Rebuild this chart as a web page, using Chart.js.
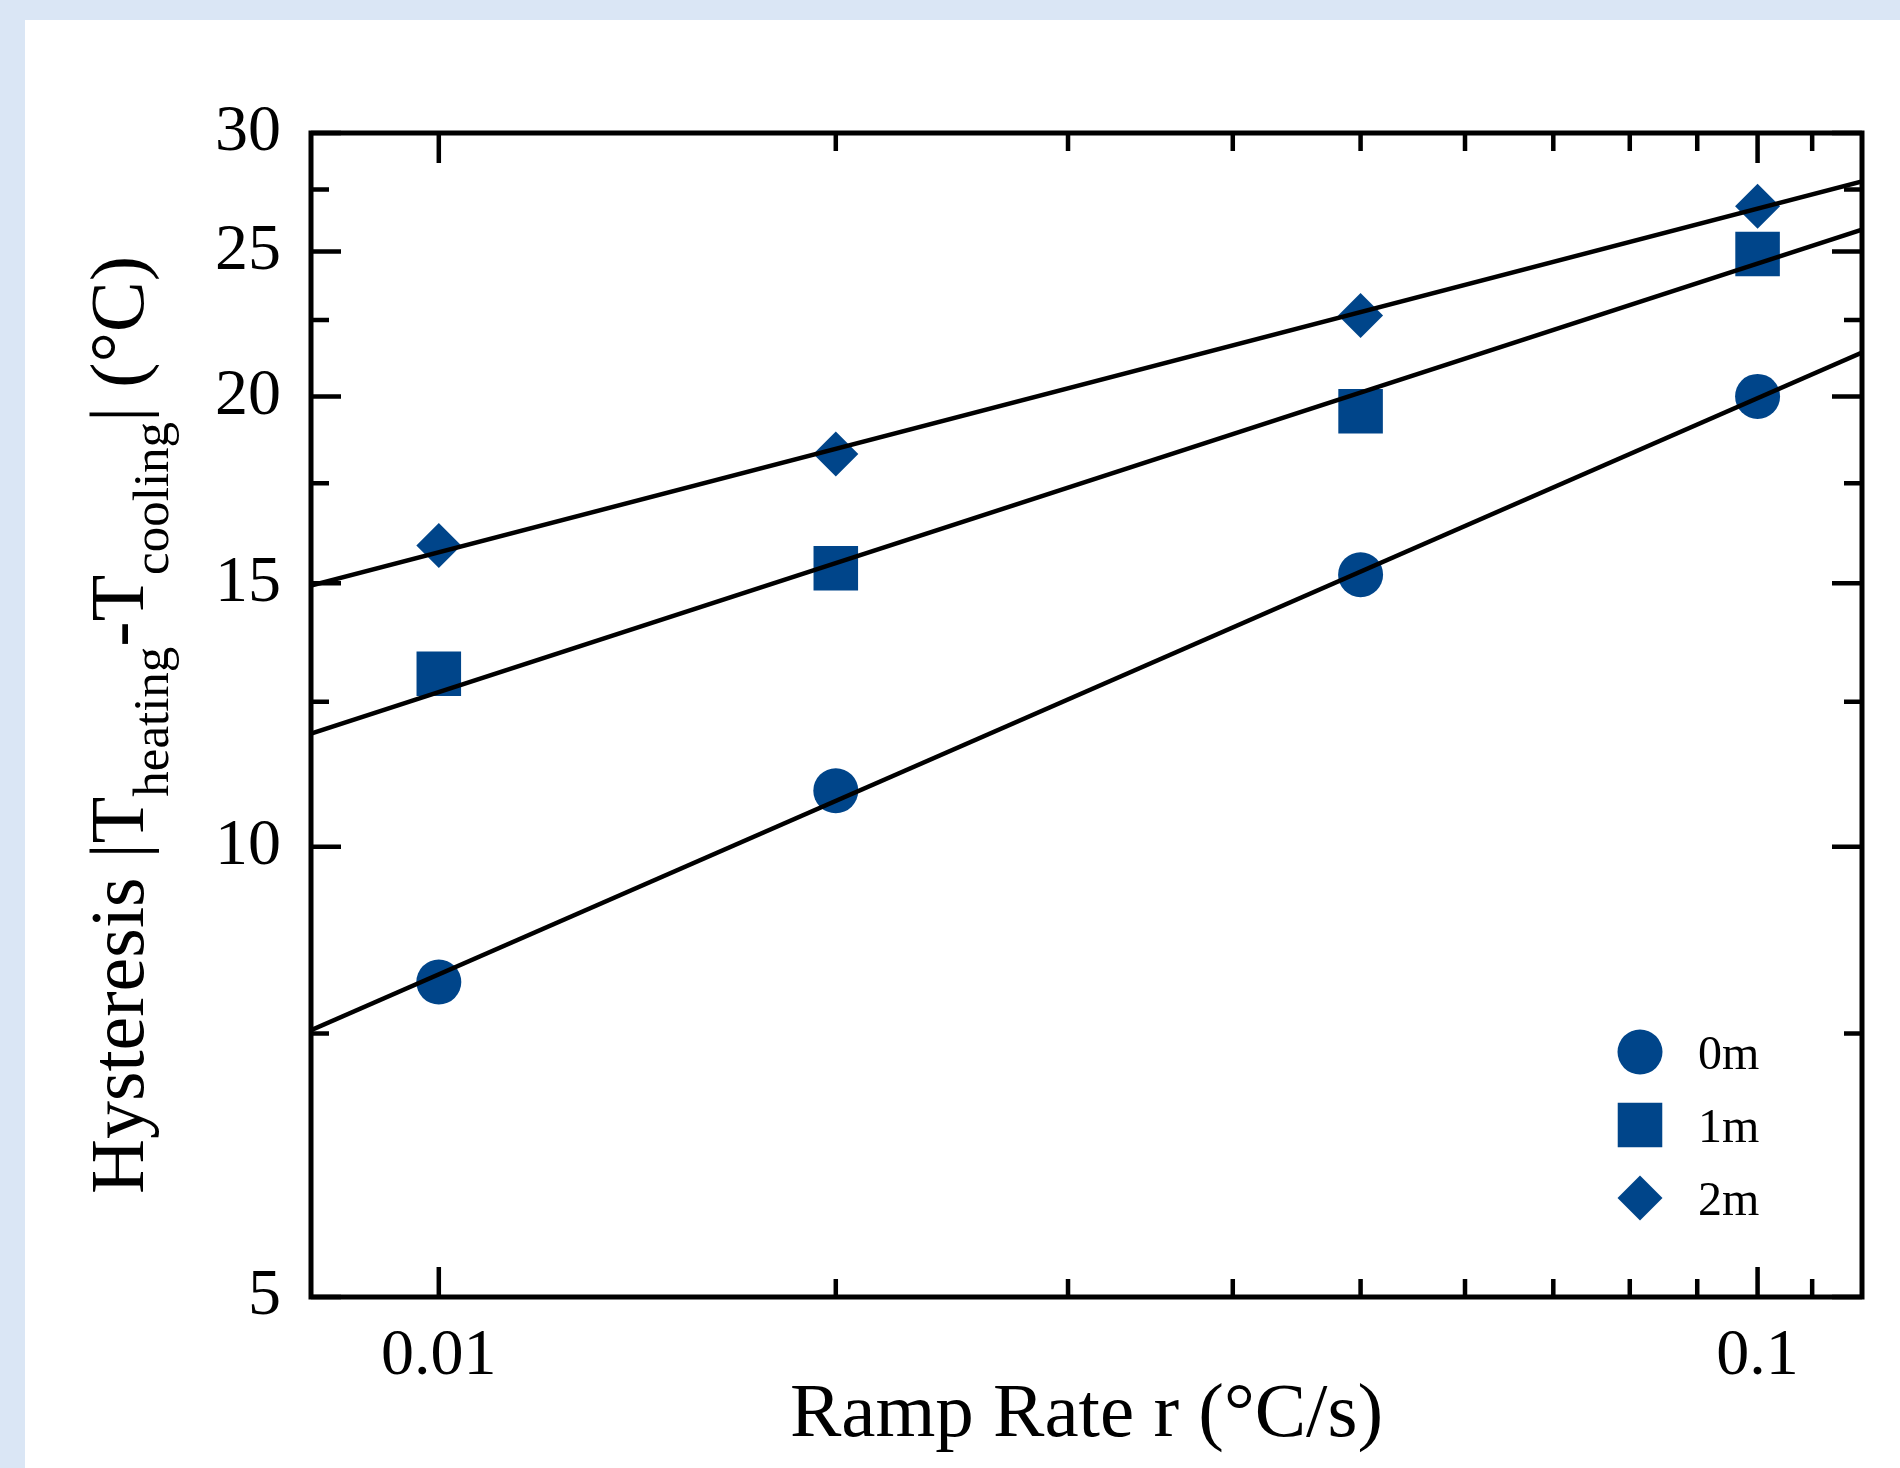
<!DOCTYPE html>
<html>
<head>
<meta charset="utf-8">
<script src="https://cdn.jsdelivr.net/npm/chart.js@4.4.1/dist/chart.umd.min.js"></script>
<style>
  html, body { margin: 0; padding: 0; background: #dae6f5; overflow: hidden; }
  #panel { position: absolute; left: 25px; top: 20px; width: 1875px; height: 1448px; background: #fff; }
  #chart { position: absolute; left: 0; top: 0; }
</style>
</head>
<body>
<div id="panel"></div>
<canvas id="chart" width="1900" height="1468"></canvas>
<script>
// ramp rate (°C/s) and measured hysteresis (°C)
const rampRates = [0.01, 0.02, 0.05, 0.1];
const seriesNames = ["0m", "1m", "2m"];
const hyst0m = [8.12, 10.9, 15.2, 20.0];
const hyst1m = [13.05, 15.35, 19.55, 24.9];
const hyst2m = [15.9, 18.3, 22.65, 26.8];

// fitted power-law lines, read at the frame edges
const fitRange = [0.008, 0.12];
const fit0m = [7.54, 21.4];
const fit1m = [11.9, 25.85];
const fit2m = [14.95, 27.85];

// axis ticks
const yTicks = [5, 10, 15, 20, 25, 30];
const yMinor = [7.5, 12.5, 17.5, 22.5, 27.5];
const xTicks = [0.01, 0.1];
const xMinor = [0.02, 0.03, 0.04, 0.05, 0.06, 0.07, 0.08, 0.09, 0.11];

const blue = "#00458a";
const serif = '"Liberation Serif", "Times New Roman", serif';

Chart.defaults.font.family = serif;
Chart.defaults.color = "#000";

const pts = (xs, ys) => xs.map((x, i) => ({ x: x, y: ys[i] }));

function fitSet(ys) {
  return {
    data: pts(fitRange, ys),
    showLine: true,
    borderColor: "#000",
    borderWidth: 4.5,
    pointRadius: 0,
    fill: false,
  };
}

function markerSet(label, ys, style, r) {
  return {
    label: label,
    data: pts(rampRates, ys),
    pointStyle: style,
    pointRadius: r,
    backgroundColor: blue,
    borderColor: blue,
    borderWidth: 0,
  };
}

const markerStyles = [["circle", 22.5], ["rect", 31.5], ["rectRot", 22.5]];

// frame, inward ticks on all four sides, titles and legend
const decor = {
  id: "decor",
  afterDatasetsDraw(chart) {
    const { ctx, chartArea: a, scales } = chart;
    const xs = scales.x, ys = scales.y;
    ctx.save();
    ctx.strokeStyle = "#000";
    ctx.lineWidth = 5;
    ctx.lineCap = "butt";
    ctx.strokeRect(a.left, a.top, a.right - a.left, a.bottom - a.top);

    ctx.lineWidth = 4.5;
    ctx.beginPath();
    const tickX = (v, len) => {
      const p = xs.getPixelForValue(v);
      ctx.moveTo(p, a.bottom); ctx.lineTo(p, a.bottom - len);
      ctx.moveTo(p, a.top); ctx.lineTo(p, a.top + len);
    };
    const tickY = (v, len) => {
      const p = ys.getPixelForValue(v);
      ctx.moveTo(a.left, p); ctx.lineTo(a.left + len, p);
      ctx.moveTo(a.right, p); ctx.lineTo(a.right - len, p);
    };
    xTicks.forEach((v) => tickX(v, 30));
    xMinor.forEach((v) => tickX(v, 18));
    yTicks.forEach((v) => tickY(v, 30));
    yMinor.forEach((v) => tickY(v, 18));
    ctx.stroke();
    ctx.restore();
  },
  afterDraw(chart) {
    const { ctx, chartArea: a } = chart;
    ctx.save();
    ctx.fillStyle = "#000";

    // x title
    ctx.font = "77px " + serif;
    ctx.textAlign = "center";
    ctx.textBaseline = "alphabetic";
    ctx.fillText("Ramp Rate r (°C/s)", (a.left + a.right) / 2, 1436);

    // y title with subscripts
    const parts = [
      ["Hysteresis |T", false],
      ["heating", true],
      ["-T", false],
      ["cooling", true],
      ["| (°C)", false],
    ];
    const mainFont = "76px " + serif;
    const subFont = "51px " + serif;
    let total = 0;
    const widths = parts.map(([t, sub]) => {
      ctx.font = sub ? subFont : mainFont;
      const w = ctx.measureText(t).width;
      total += w;
      return w;
    });
    ctx.translate(143, (a.top + a.bottom) / 2 + 10);
    ctx.rotate(-Math.PI / 2);
    ctx.textAlign = "left";
    let pos = -total / 2;
    parts.forEach(([t, sub], i) => {
      ctx.font = sub ? subFont : mainFont;
      ctx.fillText(t, pos, sub ? 25 : 0);
      pos += widths[i];
    });
    ctx.setTransform(1, 0, 0, 1, 0, 0);

    // legend
    const lx = a.right - 222;
    const ly = a.bottom - 245;
    ctx.font = "48px " + serif;
    ctx.textAlign = "left";
    seriesNames.forEach((name, i) => {
      const y = ly + i * 73;
      ctx.fillStyle = blue;
      ctx.strokeStyle = blue;
      Chart.helpers.drawPoint(ctx, {
        pointStyle: markerStyles[i][0],
        radius: markerStyles[i][1],
        rotation: 0,
        borderWidth: 0,
      }, lx, y);
      ctx.fillStyle = "#000";
      ctx.fillText(name, lx + 58, y + 17);
    });
    ctx.restore();
  },
};

new Chart(document.getElementById("chart"), {
  type: "scatter",
  data: {
    datasets: [
      fitSet(fit0m),
      fitSet(fit1m),
      fitSet(fit2m),
      markerSet(seriesNames[0], hyst0m, ...markerStyles[0]),
      markerSet(seriesNames[1], hyst1m, ...markerStyles[1]),
      markerSet(seriesNames[2], hyst2m, ...markerStyles[2]),
    ],
  },
  options: {
    responsive: false,
    animation: false,
    events: [],
    layout: { padding: { left: 0, top: 133, right: 38, bottom: 0 } },
    plugins: { legend: { display: false }, tooltip: { enabled: false } },
    scales: {
      x: {
        type: "logarithmic",
        min: fitRange[0],
        max: fitRange[1],
        bounds: "data",
        grid: { display: false, drawTicks: false },
        border: { display: false },
        afterBuildTicks: (s) => { s.ticks = xTicks.map((v) => ({ value: v })); },
        afterFit: (s) => { s.height = 171; },
        ticks: {
          font: { size: 66 },
          padding: 20,
          maxRotation: 0,
          autoSkip: false,
          callback: (v) => String(v),
        },
      },
      y: {
        type: "logarithmic",
        min: yTicks[0],
        max: yTicks[yTicks.length - 1],
        bounds: "data",
        grid: { display: false, drawTicks: false },
        border: { display: false },
        afterBuildTicks: (s) => { s.ticks = yTicks.map((v) => ({ value: v })); },
        afterFit: (s) => { s.width = 311; },
        ticks: {
          font: { size: 66 },
          padding: 30,
          autoSkip: false,
          callback: (v) => String(v),
        },
      },
    },
  },
  plugins: [decor],
});
</script>
</body>
</html>
